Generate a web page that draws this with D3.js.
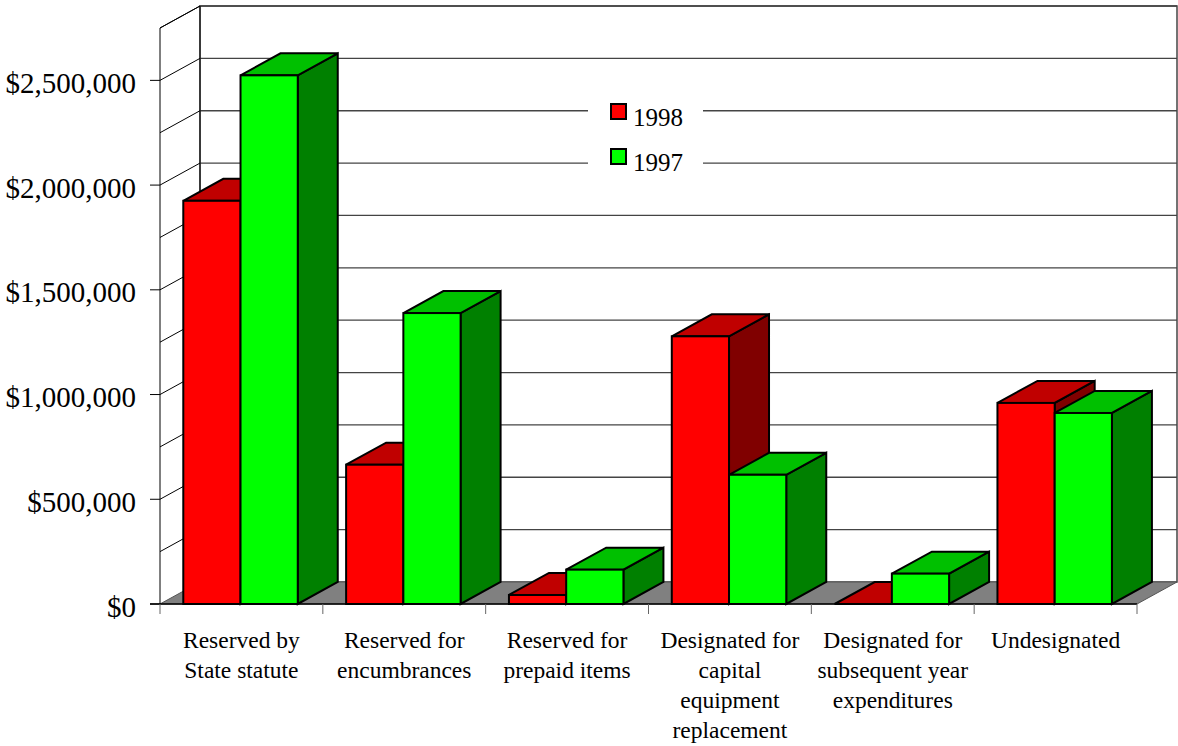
<!DOCTYPE html>
<html>
<head>
<meta charset="utf-8">
<script src="https://cdn.jsdelivr.net/npm/d3@7"></script>
<style>
  html, body { margin: 0; padding: 0; background: #fff; }
  svg { display: block; }
  text { font-family: "Liberation Serif", "Times New Roman", serif; fill: #000; }
</style>
</head>
<body>
<svg id="chart" width="1178" height="746"></svg>
<script>
// Fund balance categories (label lines) and amounts per year
const categories = [
  "Reserved by State statute",
  "Reserved for encumbrances",
  "Reserved for prepaid items",
  "Designated for capital equipment replacement",
  "Designated for subsequent year expenditures",
  "Undesignated"
];
const categoryLines = [
  ["Reserved by", "State statute"],
  ["Reserved for", "encumbrances"],
  ["Reserved for", "prepaid items"],
  ["Designated for", "capital", "equipment", "replacement"],
  ["Designated for", "subsequent year", "expenditures"],
  ["Undesignated"]
];
const seriesNames = ["1998", "1997"];
const values1998 = [1925000, 665000, 43000, 1278000, 0, 960000];
const values1997 = [2524000, 1389000, 164000, 617000, 145000, 912000];
const yTicks = [0, 500000, 1000000, 1500000, 2000000, 2500000];
const yGrid = d3.range(0, 2750001, 250000);

const colors = {
  "1998": { front: "#ff0000", top: "#c00000", side: "#800000" },
  "1997": { front: "#00ff00", top: "#00c000", side: "#008000" }
};

const svg = d3.select("#chart");

// plot geometry: front plane and depth offset of the 3-D box
const x0 = 160, x1 = 1137;
const dx = 40, dy = -22;

const x = d3.scaleBand().domain(categories).range([x0, x1]).padding(0);
const xs = d3.scaleBand().domain(seriesNames)
  .range([x.bandwidth() * 0.143, x.bandwidth() * 0.846]).padding(0);
const y = d3.scaleLinear().domain([0, 2750000]).range([604, 28]);
const yBase = y(0);

// back wall
const wall = svg.append("g");
wall.append("rect")
  .attr("x", x0 + dx).attr("y", y(2750000) + dy)
  .attr("width", x1 - x0).attr("height", y(0) - y(2750000))
  .attr("fill", "#fff").attr("stroke", "#444").attr("stroke-width", 1.5);

// gridlines on back wall and side wall
yGrid.forEach(v => {
  if (v === 0) return;
  wall.append("line")
    .attr("x1", x0 + dx).attr("x2", x1 + dx)
    .attr("y1", y(v) + dy).attr("y2", y(v) + dy)
    .attr("stroke", "#444").attr("stroke-width", 1.3);
  wall.append("line")
    .attr("x1", x0).attr("x2", x0 + dx)
    .attr("y1", y(v)).attr("y2", y(v) + dy)
    .attr("stroke", "#000").attr("stroke-width", 1);
});

// side wall outline
wall.append("line")
  .attr("x1", x0 + dx).attr("x2", x0 + dx)
  .attr("y1", y(2750000) + dy).attr("y2", yBase + dy)
  .attr("stroke", "#000").attr("stroke-width", 1);

// floor
svg.append("path")
  .attr("d", `M${x0},${yBase} L${x1},${yBase} L${x1 + dx},${yBase + dy} L${x0 + dx},${yBase + dy} Z`)
  .attr("fill", "#808080").attr("stroke", "#555").attr("stroke-width", 1);

// legend (drawn on a white patch across the gridlines)
const legend = svg.append("g");
legend.append("rect").attr("x", 588).attr("y", 88).attr("width", 115).attr("height", 98).attr("fill", "#fff");
seriesNames.forEach((s, i) => {
  const ly = 104 + i * 45;
  legend.append("rect")
    .attr("x", 611).attr("y", ly).attr("width", 15).attr("height", 15)
    .attr("fill", colors[s].front).attr("stroke", "#000").attr("stroke-width", 2);
  legend.append("text")
    .attr("x", 633).attr("y", ly + 21.5)
    .attr("font-size", 25).text(s);
});

// bars
const data = categories.map((c, i) => ({ cat: c, vals: [["1998", values1998[i]], ["1997", values1997[i]]] }));
const bars = svg.append("g");
data.forEach(d => {
  d.vals.forEach(([s, v]) => {
    const bx = x(d.cat) + xs(s), bw = xs.bandwidth(), by = y(v);
    const g = bars.append("g")
      .attr("stroke", "#000").attr("stroke-width", 2).attr("stroke-linejoin", "miter");
    g.append("path")
      .attr("d", `M${bx + bw},${by} L${bx + bw + dx},${by + dy} L${bx + bw + dx},${yBase + dy} L${bx + bw},${yBase} Z`)
      .attr("fill", colors[s].side);
    g.append("path")
      .attr("d", `M${bx},${by} L${bx + dx},${by + dy} L${bx + bw + dx},${by + dy} L${bx + bw},${by} Z`)
      .attr("fill", colors[s].top);
    if (yBase - by > 0.5) {
      g.append("rect")
        .attr("x", bx).attr("y", by).attr("width", bw).attr("height", yBase - by)
        .attr("fill", colors[s].front);
    }
  });
});

// value axis on the front-left edge
const axis = svg.append("g");
axis.append("line")
  .attr("x1", x0).attr("x2", x0).attr("y1", y(2750000)).attr("y2", yBase)
  .attr("stroke", "#000").attr("stroke-width", 1);
axis.append("line")
  .attr("x1", x0 + dx).attr("x2", x0).attr("y1", y(2750000) + dy).attr("y2", y(2750000))
  .attr("stroke", "#000").attr("stroke-width", 1);
axis.append("line")
  .attr("x1", 150).attr("x2", x1).attr("y1", yBase).attr("y2", yBase)
  .attr("stroke", "#000").attr("stroke-width", 1.5);
const fmt = d3.format("$,");
yTicks.forEach(v => {
  axis.append("line")
    .attr("x1", 150).attr("x2", x0).attr("y1", y(v)).attr("y2", y(v))
    .attr("stroke", "#000").attr("stroke-width", 1);
  axis.append("text")
    .attr("x", 136).attr("y", y(v) + 12.5)
    .attr("text-anchor", "end").attr("font-size", 29)
    .text(fmt(v));
});

// category axis ticks and labels
const catAxis = svg.append("g");
d3.range(categories.length + 1).forEach(i => {
  const tx = x0 + i * x.bandwidth();
  catAxis.append("line")
    .attr("x1", tx).attr("x2", tx).attr("y1", yBase).attr("y2", yBase + 10)
    .attr("stroke", "#666").attr("stroke-width", 1);
});
categories.forEach((c, i) => {
  const t = catAxis.append("text")
    .attr("x", x(c) + x.bandwidth() / 2).attr("y", 647.5)
    .attr("text-anchor", "middle").attr("font-size", 23.5);
  categoryLines[i].forEach((ln, j) => {
    t.append("tspan").attr("x", x(c) + x.bandwidth() / 2).attr("dy", j === 0 ? 0 : 30).text(ln);
  });
});
</script>
</body>
</html>
